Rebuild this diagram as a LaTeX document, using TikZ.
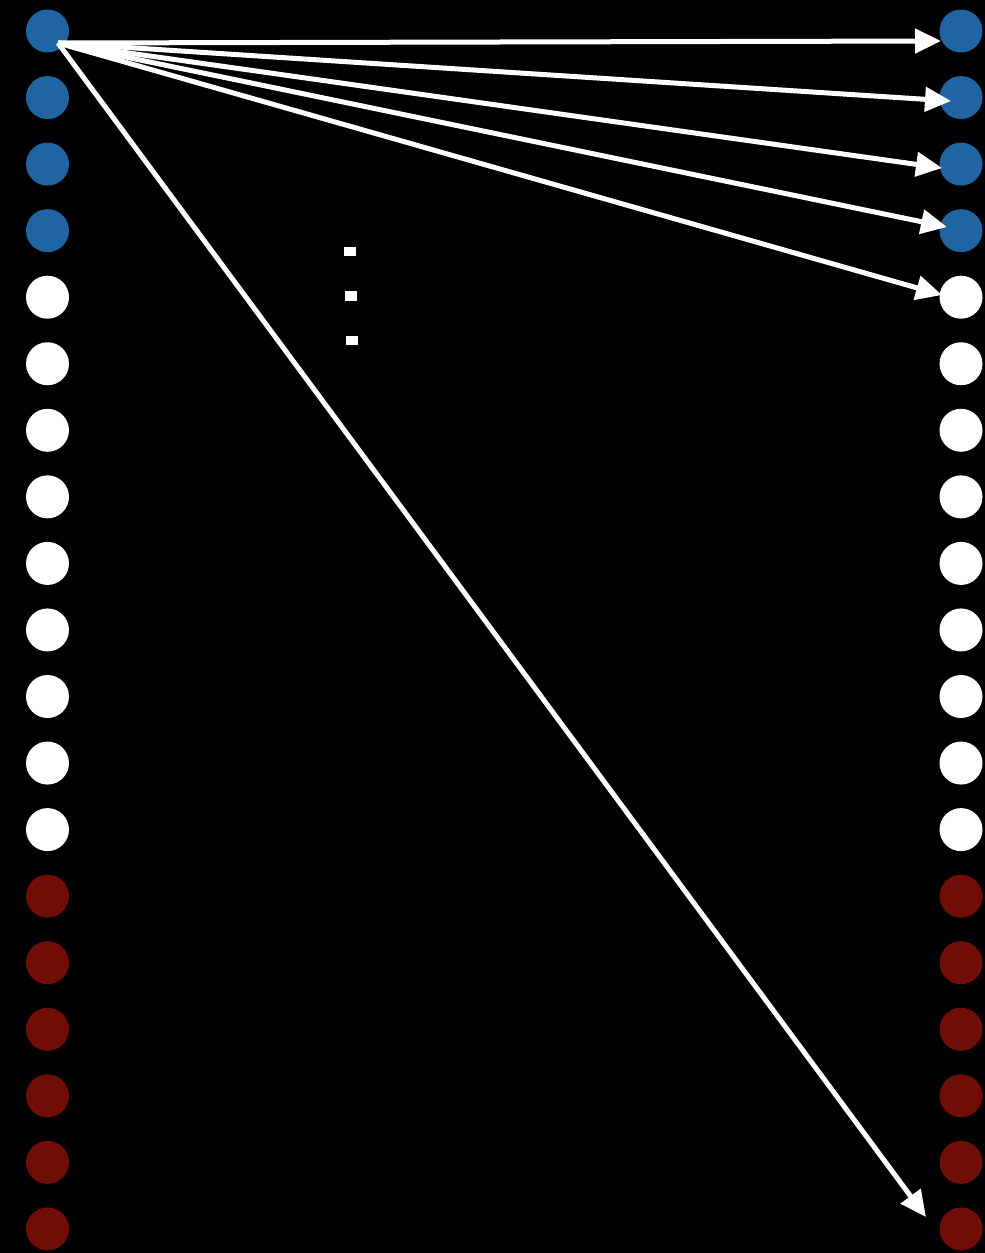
\documentclass[tikz,border=0pt]{standalone}
\usetikzlibrary{arrows.meta}
\definecolor{dotblue}{RGB}{31,101,163}
\definecolor{dotred}{RGB}{112,13,6}
\begin{document}
\begin{tikzpicture}[x=1pt,y=-1pt,
  dot/.style={circle,inner sep=0pt,minimum size=43pt},
  bluedot/.style={dot,fill=dotblue},
  whitedot/.style={dot,fill=white},
  reddot/.style={dot,fill=dotred},
  link/.style={white,line width=5pt,-{Triangle[length=26pt,width=24pt]}},
  ell/.style={fill=white,inner sep=0pt,minimum width=12pt,minimum height=9.5pt}]
\fill[black] (0,0) rectangle (985,1253);
\useasboundingbox (0,0) rectangle (985,1253);
\foreach \i in {0,...,18}{
  \pgfmathsetmacro{\yy}{31+66.55*\i}
  \ifnum\i<4
    \node[bluedot] (L\i) at (47.5,\yy) {};
    \node[bluedot] (R\i) at (961,\yy) {};
  \else\ifnum\i<13
    \node[whitedot] (L\i) at (47.5,\yy) {};
    \node[whitedot] (R\i) at (961,\yy) {};
  \else
    \node[reddot] (L\i) at (47.5,\yy) {};
    \node[reddot] (R\i) at (961,\yy) {};
  \fi\fi
}
\coordinate (s) at (58,43);
\coordinate (t0) at (941,41);
\coordinate (t1) at (951,101);
\coordinate (t2) at (942,168);
\coordinate (t3) at (947,227);
\coordinate (t4) at (942,295);
\coordinate (t18) at (926,1217);
\foreach \t in {0,1,2,3,4,18}{
  \draw[link] (s) -- (t\t);
}
\node[ell] (d1) at (349.5,251.5) {};
\node[ell] (d2) at (351,296) {};
\node[ell] (d3) at (352,340.5) {};
\end{tikzpicture}
\end{document}
